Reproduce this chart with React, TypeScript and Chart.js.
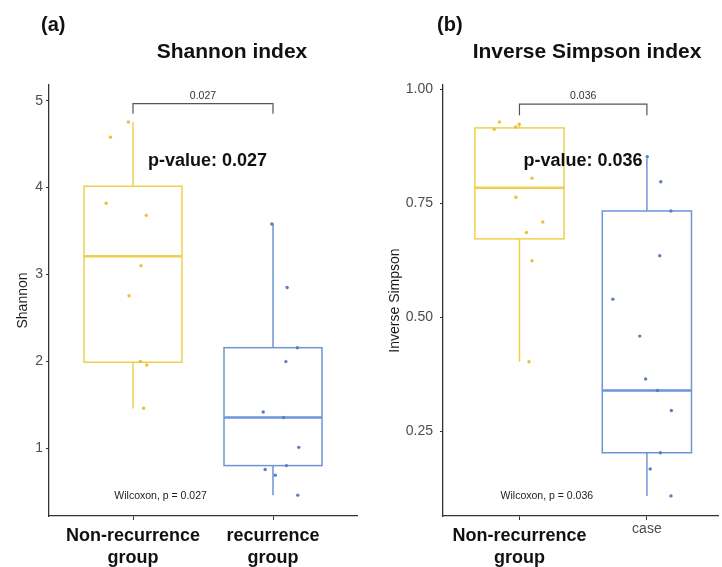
import React, { useEffect, useRef } from 'react';
import { Chart, registerables } from 'chart.js';

Chart.register(...registerables);

const FONT = "'Liberation Sans', Arial, Helvetica, sans-serif";

// ---------- Panel (a): Shannon index ----------
const shannonLabels = [['Non-recurrence', 'group'], ['recurrence', 'group']];
const shannonTicks = [1, 2, 3, 4, 5];
// jittered points: group 1 (Non-recurrence)
const shannonNonX = [0.839, 0.967, 0.808, 1.095, 1.057, 0.972, 1.053, 1.098, 1.076];
const shannonNonY = [4.58, 4.755, 3.82, 3.68, 3.10, 2.755, 2.0, 1.957, 1.46];
// group 2 (recurrence)
const shannonRecX = [1.992, 2.101, 2.174, 2.092, 1.930, 2.075, 2.184, 2.096, 1.944, 2.016, 2.177];
const shannonRecY = [3.58, 2.85, 2.157, 1.997, 1.417, 1.353, 1.01, 0.80, 0.755, 0.69, 0.46];
// box stats: [lower whisker, Q1, median, Q3, upper whisker]
const shannonBoxNon = [1.456, 1.99, 3.21, 4.015, 4.75];
const shannonBoxRec = [0.46, 0.80, 1.353, 2.157, 3.59];
const shannonP = '0.027';

// ---------- Panel (b): Inverse Simpson index ----------
const simpsonLabels = [['Non-recurrence', 'group'], 'case'];
const simpsonTicks = [0.25, 0.5, 0.75, 1.0];
const simpsonNonX = [0.802, 0.843, 0.970, 0.998, 1.098, 0.972, 1.183, 1.055, 1.098, 1.075];
const simpsonNonY = [0.912, 0.928, 0.917, 0.923, 0.805, 0.763, 0.709, 0.686, 0.624, 0.403];
const simpsonCaseX = [2.003, 2.109, 2.189, 2.101, 1.733, 1.944, 1.990, 2.083, 2.192, 2.106, 2.026, 2.189];
const simpsonCaseY = [0.852, 0.797, 0.733, 0.635, 0.540, 0.459, 0.365, 0.340, 0.296, 0.2035, 0.168, 0.109];
const simpsonBoxNon = [0.403, 0.672, 0.784, 0.915, 0.925];
const simpsonBoxCase = [0.109, 0.2035, 0.340, 0.733, 0.848];
const simpsonP = '0.036';

const YELLOW_LINE = '#F0CF4E';
const YELLOW_PT = '#E8C23A';
const BLUE_LINE = '#6E94D8';
const BLUE_PT = '#5A7EC6';

type PanelCfg = {
  tag: string;
  title: string;
  titleX: number;
  tagX: number;
  yTitle: string;
  yTitlePad: number;
  yMin: number;
  yMax: number;
  xMax: number;
  yTicks: number[];
  tickFmt: (v: number) => string;
  tickPad: number;
  yAxisWidth: number;
  rightPad: number;
  labels: (string | string[])[];
  nonX: number[];
  nonY: number[];
  othX: number[];
  othY: number[];
  boxNon: number[];
  boxOth: number[];
  p: string;
  bracketTop: number;
  bracketEnd: number;
  bracketLabelY: number;
  pValPos: [number, number];
  wilcoxPos: [number, number];
};

function buildChart(canvas: HTMLCanvasElement, cfg: PanelCfg) {
  const boxPlugin = {
    id: 'boxes',
    beforeDatasetsDraw(chart: any) {
      const { ctx, scales } = chart;
      const x = scales.x;
      const y = scales.y;
      const boxes = [
        { pos: 1, stats: cfg.boxNon, color: YELLOW_LINE },
        { pos: 2, stats: cfg.boxOth, color: BLUE_LINE },
      ];
      ctx.save();
      boxes.forEach((b) => {
        const [lo, q1, med, q3, hi] = b.stats;
        const xl = x.getPixelForValue(b.pos - 0.35);
        const xr = x.getPixelForValue(b.pos + 0.35);
        const xc = x.getPixelForValue(b.pos);
        ctx.strokeStyle = b.color;
        ctx.lineWidth = 1.5;
        ctx.beginPath();
        ctx.moveTo(xc, y.getPixelForValue(hi));
        ctx.lineTo(xc, y.getPixelForValue(q3));
        ctx.moveTo(xc, y.getPixelForValue(q1));
        ctx.lineTo(xc, y.getPixelForValue(lo));
        ctx.stroke();
        ctx.strokeRect(xl, y.getPixelForValue(q3), xr - xl, y.getPixelForValue(q1) - y.getPixelForValue(q3));
        ctx.lineWidth = 2.6;
        ctx.beginPath();
        ctx.moveTo(xl, y.getPixelForValue(med));
        ctx.lineTo(xr, y.getPixelForValue(med));
        ctx.stroke();
      });
      ctx.restore();
    },
    afterDraw(chart: any) {
      const { ctx, scales } = chart;
      const x = scales.x;
      const y = scales.y;
      ctx.save();
      ctx.textBaseline = 'middle';
      // tag
      ctx.fillStyle = '#111';
      ctx.font = `bold 20px ${FONT}`;
      ctx.textAlign = 'left';
      ctx.fillText(cfg.tag, cfg.tagX, 25);
      // title
      ctx.font = `bold 21px ${FONT}`;
      ctx.textAlign = 'center';
      ctx.fillText(cfg.title, cfg.titleX, 52);
      // bracket
      const x1 = x.getPixelForValue(1);
      const x2 = x.getPixelForValue(2);
      const yt = y.getPixelForValue(cfg.bracketTop);
      const ye = y.getPixelForValue(cfg.bracketEnd);
      ctx.strokeStyle = '#555';
      ctx.lineWidth = 1.2;
      ctx.beginPath();
      ctx.moveTo(x1, ye);
      ctx.lineTo(x1, yt);
      ctx.lineTo(x2, yt);
      ctx.lineTo(x2, ye);
      ctx.stroke();
      ctx.fillStyle = '#333';
      ctx.font = `10.5px ${FONT}`;
      ctx.fillText(cfg.p, x.getPixelForValue(1.5), y.getPixelForValue(cfg.bracketLabelY));
      // p-value
      ctx.fillStyle = '#111';
      ctx.font = `bold 18px ${FONT}`;
      ctx.fillText(`p-value: ${cfg.p}`, x.getPixelForValue(cfg.pValPos[0]), y.getPixelForValue(cfg.pValPos[1]));
      // wilcoxon
      ctx.fillStyle = '#222';
      ctx.font = `10.5px ${FONT}`;
      ctx.fillText(`Wilcoxon, p = ${cfg.p}`, x.getPixelForValue(cfg.wilcoxPos[0]), y.getPixelForValue(cfg.wilcoxPos[1]));
      ctx.restore();
    },
  };

  const toPts = (xs: number[], ys: number[]) => xs.map((v, i) => ({ x: v, y: ys[i] }));

  return new Chart(canvas, {
    type: 'scatter',
    data: {
      datasets: [
        {
          data: toPts(cfg.nonX, cfg.nonY),
          backgroundColor: YELLOW_PT,
          borderWidth: 0,
          pointRadius: 1.7,
        },
        {
          data: toPts(cfg.othX, cfg.othY),
          backgroundColor: BLUE_PT,
          borderWidth: 0,
          pointRadius: 1.7,
        },
      ],
    },
    options: {
      responsive: false,
      animation: false,
      devicePixelRatio: 1,
      layout: { padding: { top: 85, left: 0, right: cfg.rightPad, bottom: 0 } },
      plugins: { legend: { display: false }, tooltip: { enabled: false }, title: { display: false } },
      scales: {
        x: {
          type: 'linear',
          min: 0.4,
          max: cfg.xMax,
          afterBuildTicks: (s: any) => {
            s.ticks = [{ value: 1 }, { value: 2 }];
          },
          afterFit: (s: any) => {
            s.height = 51;
          },
          border: { display: true, color: '#333', width: 1.3 },
          grid: { display: true, drawOnChartArea: false, drawTicks: true, tickLength: 4, tickColor: '#333', tickWidth: 1 },
          ticks: {
            autoSkip: false,
            maxRotation: 0,
            minRotation: 0,
            padding: 5,
            callback: (v: any) => cfg.labels[Math.round(Number(v)) - 1],
            color: (ctx: any) => (Array.isArray(cfg.labels[Math.round(ctx.tick?.value ?? 1) - 1]) ? '#111' : '#4d4d4d'),
            font: (ctx: any) =>
              Array.isArray(cfg.labels[Math.round(ctx.tick?.value ?? 1) - 1])
                ? { family: FONT, size: 18, weight: 'bold', lineHeight: 22 / 18 }
                : { family: FONT, size: 14, weight: 'normal', lineHeight: 0.6 },
          },
        },
        y: {
          type: 'linear',
          min: cfg.yMin,
          max: cfg.yMax,
          afterBuildTicks: (s: any) => {
            s.ticks = cfg.yTicks.map((v) => ({ value: v }));
          },
          afterFit: (s: any) => {
            s.width = cfg.yAxisWidth;
          },
          border: { display: true, color: '#333', width: 1.3 },
          grid: { display: true, drawOnChartArea: false, drawTicks: true, tickLength: 3, tickColor: '#333', tickWidth: 1 },
          ticks: {
            padding: cfg.tickPad,
            color: '#4d4d4d',
            font: { family: FONT, size: 14 },
            callback: (v: any) => cfg.tickFmt(Number(v)),
          },
          title: {
            display: true,
            text: cfg.yTitle,
            color: '#1a1a1a',
            font: { family: FONT, size: 14 },
            padding: { top: cfg.yTitlePad, bottom: 0 },
          },
        },
      },
    } as any,
    plugins: [boxPlugin],
  });
}

const panelA: PanelCfg = {
  tag: '(a)',
  title: 'Shannon index',
  titleX: 232,
  tagX: 41,
  yTitle: 'Shannon',
  yTitlePad: 14.4,
  yMin: 0.22,
  yMax: 5.18,
  xMax: 2.6,
  yTicks: shannonTicks,
  tickFmt: (v) => String(v),
  tickPad: 3,
  yAxisWidth: 49,
  rightPad: 3,
  labels: shannonLabels,
  nonX: shannonNonX,
  nonY: shannonNonY,
  othX: shannonRecX,
  othY: shannonRecY,
  boxNon: shannonBoxNon,
  boxOth: shannonBoxRec,
  p: shannonP,
  bracketTop: 4.966,
  bracketEnd: 4.85,
  bracketLabelY: 5.057,
  pValPos: [1.532, 4.31],
  wilcoxPos: [1.197, 0.452],
};

const panelB: PanelCfg = {
  tag: '(b)',
  title: 'Inverse Simpson index',
  titleX: 226,
  tagX: 76,
  yTitle: 'Inverse Simpson',
  yTitlePad: 25.3,
  yMin: 0.065,
  yMax: 1.009,
  xMax: 2.558,
  yTicks: simpsonTicks,
  tickFmt: (v) => v.toFixed(2),
  tickPad: 7,
  yAxisWidth: 82,
  rightPad: 0,
  labels: simpsonLabels,
  nonX: simpsonNonX,
  nonY: simpsonNonY,
  othX: simpsonCaseX,
  othY: simpsonCaseY,
  boxNon: simpsonBoxNon,
  boxOth: simpsonBoxCase,
  p: simpsonP,
  bracketTop: 0.967,
  bracketEnd: 0.943,
  bracketLabelY: 0.985,
  pValPos: [1.498, 0.842],
  wilcoxPos: [1.215, 0.108],
};

function Panel({ cfg, left }: { cfg: PanelCfg; left: number }) {
  const ref = useRef<HTMLCanvasElement | null>(null);
  useEffect(() => {
    if (!ref.current) return;
    const chart = buildChart(ref.current, cfg);
    return () => chart.destroy();
  }, [cfg]);
  return (
    <div style={{ position: 'absolute', left, top: 0, width: 361, height: 567 }}>
      <canvas ref={ref} width={361} height={567} style={{ width: 361, height: 567, display: 'block' }} />
    </div>
  );
}

export default function App() {
  return (
    <div style={{ position: 'absolute', left: 0, top: 0, width: 722, height: 567, background: '#fff', overflow: 'hidden' }}>
      <Panel cfg={panelA} left={0} />
      <Panel cfg={panelB} left={361} />
    </div>
  );
}
